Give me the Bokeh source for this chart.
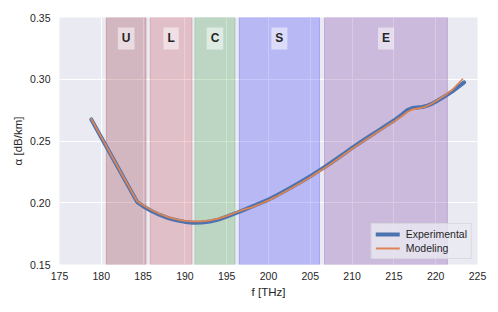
from bokeh.plotting import figure
from bokeh.models import ColumnDataSource, FixedTicker, NumeralTickFormatter, Legend, LegendItem, Range1d
from bokeh.core.properties import value
from bokeh.embed import file_html
from bokeh.resources import INLINE

# ---- data ----
freq_exp = [178.8, 180, 181, 182, 183, 184.3, 185, 186, 187, 188, 189, 190, 191, 192, 193, 194,
            195, 196, 197, 198, 199, 200, 201, 202, 203, 204, 205, 206, 207, 208, 209, 210,
            211, 212, 213, 214, 215, 216, 216.6, 217.2, 217.8, 218.4, 219, 219.6, 220, 221, 222, 223.4]
alpha_exp = [0.2675, 0.2529, 0.2407, 0.2285, 0.2163, 0.2005, 0.1972, 0.1933, 0.1901, 0.1876, 0.1858,
             0.1845, 0.1839, 0.1840, 0.1848, 0.1863, 0.1888, 0.1913, 0.1940, 0.1968, 0.1997, 0.2026,
             0.2060, 0.2097, 0.2135, 0.2174, 0.2215, 0.2258, 0.2302, 0.2348, 0.2396, 0.2445,
             0.2490, 0.2534, 0.2578, 0.2622, 0.2666, 0.2716, 0.2750, 0.2767, 0.2771, 0.2775,
             0.2787, 0.2803, 0.2818, 0.2858, 0.2902, 0.2975]

freq_mod = [178.8, 180, 181, 182, 183, 184.3, 185, 186, 187, 188, 189, 190, 191, 192, 193, 194,
            195, 196, 197, 198, 199, 200, 201, 202, 203, 204, 205, 206, 207, 208, 209, 210,
            211, 212, 213, 214, 215, 216, 216.6, 217.2, 217.8, 218.4, 219, 219.6, 220, 221, 222, 223.2]
alpha_mod = [0.2678, 0.2531, 0.2409, 0.2287, 0.2166, 0.2010, 0.1980, 0.1941, 0.1909, 0.1884, 0.1866,
             0.1854, 0.1849, 0.1850, 0.1858, 0.1872, 0.1894, 0.1919, 0.1944, 0.1962, 0.1990, 0.2019,
             0.2052, 0.2089, 0.2127, 0.2166, 0.2207, 0.2250, 0.2294, 0.2340, 0.2388, 0.2437,
             0.2482, 0.2526, 0.2570, 0.2614, 0.2657, 0.2703, 0.2735, 0.2755, 0.2763, 0.2770,
             0.2785, 0.2805, 0.2822, 0.2866, 0.2915, 0.3000]

band_names = ["U", "L", "C", "S", "E"]
band_start = [180.6, 185.85, 191.2, 196.5, 206.7]
band_end = [185.35, 190.85, 196.0, 206.1, 221.4]

x_ticks = [175, 180, 185, 190, 195, 200, 205, 210, 215, 220, 225]
y_ticks = [0.15, 0.20, 0.25, 0.30, 0.35]

# ---- styles ----
band_colors = ["#A0434B", "#CC5E66", "#57AA58", "#4646FC", "#834DA9"]
FONT = "Liberation Sans"
TXT = "#262626"

p = figure(width=490, height=304, output_backend="svg", toolbar_location=None,
           x_range=Range1d(175, 225), y_range=Range1d(0.15, 0.35),
           min_border_left=59, min_border_right=13, min_border_top=17, min_border_bottom=40)
p.background_fill_color = "#EAEAF2"
p.border_fill_color = "white"
p.outline_line_color = None

for g in (p.xgrid, p.ygrid):
    g.grid_line_color = "white"
    g.grid_line_width = 1

p.xaxis.ticker = FixedTicker(ticks=x_ticks)
p.yaxis.ticker = FixedTicker(ticks=y_ticks)
p.yaxis.formatter = NumeralTickFormatter(format="0.00")
for ax in (p.xaxis, p.yaxis):
    ax.axis_line_color = None
    ax.major_tick_line_color = None
    ax.minor_tick_line_color = None
    ax.major_tick_out = 0
    ax.major_tick_in = 0
    ax.major_label_text_font = FONT
    ax.major_label_text_font_size = "10.5px"
    ax.major_label_text_color = TXT
    ax.axis_label_text_font = FONT
    ax.axis_label_text_font_size = "11.5px"
    ax.axis_label_text_font_style = "normal"
    ax.axis_label_text_color = TXT
p.yaxis.major_label_standoff = 9
p.xaxis.major_label_standoff = 7
p.xaxis.axis_label = "f [THz]"
p.yaxis.axis_label = "α [dB/km]"
p.xaxis.axis_label_standoff = 3
p.yaxis.axis_label_standoff = 3

band_src = ColumnDataSource(dict(left=band_start, right=band_end, name=band_names, color=band_colors,
                                 mid=[(a + b) / 2 for a, b in zip(band_start, band_end)],
                                 top=[0.35] * len(band_names), bottom=[0.15] * len(band_names),
                                 ly=[0.333] * len(band_names)))
p.quad(left="left", right="right", top="top", bottom="bottom", source=band_src,
       fill_color="color", fill_alpha=0.3, line_color="color", line_alpha=0.3, line_width=1)
p.text(x="mid", y="ly", text="name", source=band_src, text_align="center", text_baseline="middle",
       text_font=value(FONT), text_font_style="bold", text_font_size="12px", text_color=TXT,
       background_fill_color="white", background_fill_alpha=0.5, padding=4)

r_exp = p.line(freq_exp, alpha_exp, line_color="#4C72B0", line_width=4, line_cap="round", line_join="round")
r_mod = p.line(freq_mod, alpha_mod, line_color="#DD8452", line_width=1.8, line_cap="round", line_join="round")

legend = Legend(items=[LegendItem(label="Experimental", renderers=[r_exp]),
                       LegendItem(label="Modeling", renderers=[r_mod])],
                location="bottom_right")
legend.margin = 5
legend.padding = 4
legend.spacing = 2
legend.glyph_width = 24
legend.glyph_height = 12
legend.label_height = 12
legend.label_standoff = 6
legend.label_text_font = FONT
legend.label_text_font_size = "10.5px"
legend.label_text_color = TXT
legend.background_fill_color = "#EAEAF2"
legend.background_fill_alpha = 0.8
legend.border_line_color = "#CCCCCC"
legend.border_line_width = 1
p.add_layout(legend, "center")

open("out.html", "w").write(file_html(p, INLINE))
